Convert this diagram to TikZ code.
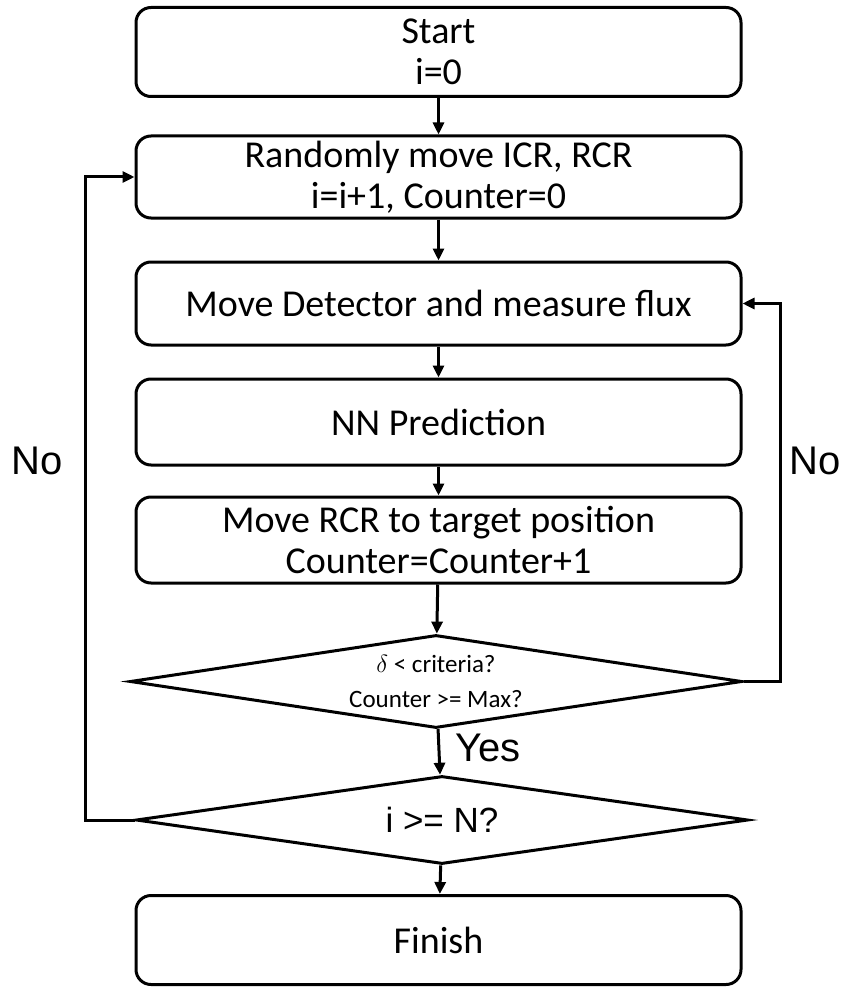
\documentclass[tikz,border=0pt]{standalone}
\usepackage{fontspec}
\setmainfont{Carlito}
\newfontfamily\arialf{Liberation Sans}
\usetikzlibrary{shapes.geometric,arrows.meta}
\begin{document}
\begin{tikzpicture}[x=1pt,y=-1pt,
  proc/.style={draw=black, line width=3pt, rounded corners=15pt, minimum width=605pt, align=center, inner sep=0pt, font=\fontsize{38}{41}\selectfont},
  decis/.style={draw=black, line width=3pt, diamond, aspect=6.6, inner sep=0pt, align=center},
  arr/.style={line width=3pt, -{Triangle[length=12pt,width=11pt]}},
  lbl/.style={font=\arialf\fontsize{40}{40}\selectfont, inner sep=0pt}
]
\useasboundingbox (0,0) rectangle (849,987);
\node[proc, minimum height=89pt] (b1) at (438.5,52) {Start\\i=0};
\node[proc, minimum height=82pt] (b2) at (438.5,177) {Randomly move ICR, RCR\\i=i+1, Counter=0};
\node[proc, minimum height=83pt] (b3) at (438.5,303.5) {Move Detector and measure flux};
\node[proc, minimum height=86pt] (b4) at (438.5,422) {NN Prediction};
\node[proc, minimum height=86pt] (b5) at (438.5,540) {Move RCR to target position\\Counter=Counter+1};
\node[decis, minimum width=612pt, minimum height=93pt, font=\fontsize{25}{35}\selectfont] (d1) at (436,681.5) {$\delta$ < criteria?\\Counter >= Max?};
\node[decis, minimum width=612pt, minimum height=88pt, font=\arialf\fontsize{35}{36}\selectfont] (d2) at (442,820) {i >= N?};
\node[proc, minimum height=89pt] (b6) at (438.5,940) {Finish};
\coordinate (lx) at (85,0);
\coordinate (rx) at (780,0);
\draw[arr] (b1) -- (b2);
\draw[arr] (b2) -- (b3);
\draw[arr] (b3) -- (b4);
\draw[arr] (b4) -- (b5);
\draw[arr] (b5) -- (d1);
\draw[arr] (d1) -- (d2);
\draw[arr] (d2) -- (b6);
\draw[arr] (d2.west) -- (d2.west -| lx) |- (b2.west);
\draw[arr] (d1.east) -- (d1.east -| rx) |- (b3.east);
\node[lbl] (no1) at (37,461) {No};
\node[lbl] (no2) at (815,461) {No};
\node[lbl] (yes) at (488,748) {Yes};
\end{tikzpicture}
\end{document}
